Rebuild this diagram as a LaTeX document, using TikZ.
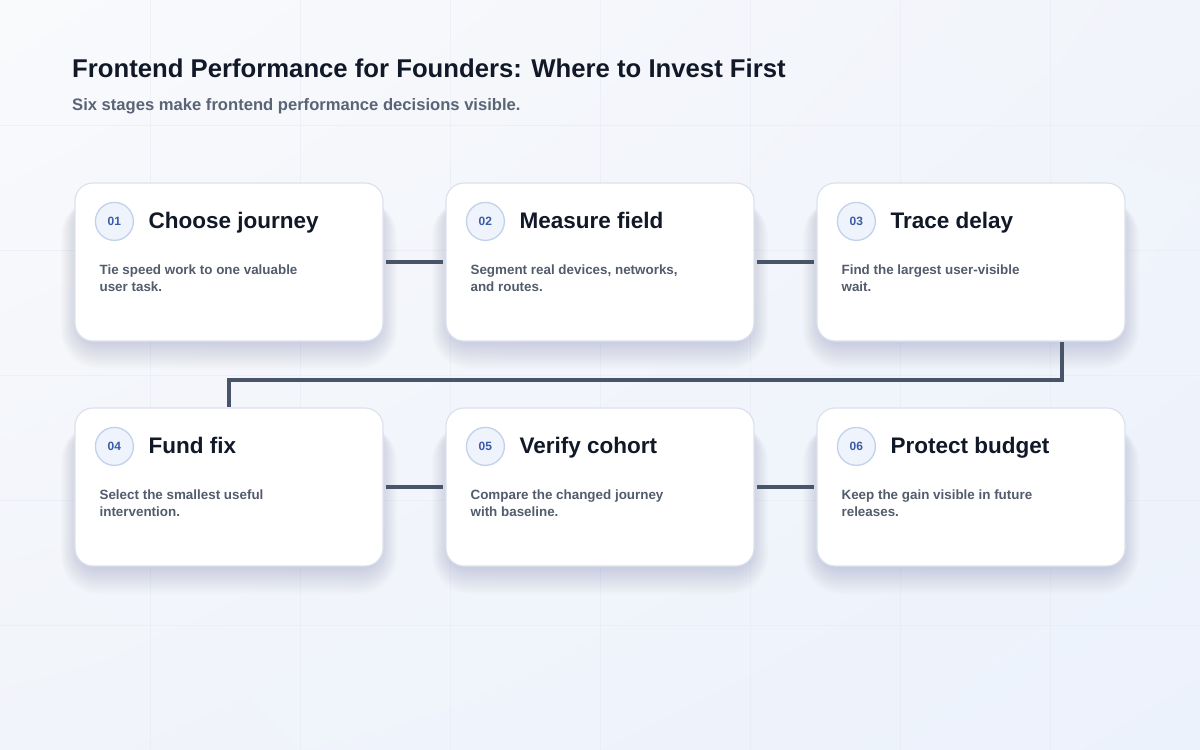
\documentclass[tikz,border=0pt]{standalone}
\usepackage{fontspec}
\setmainfont{Liberation Sans}
\usetikzlibrary{shadings}
\definecolor{bgA}{HTML}{F9FAFC}
\definecolor{bgB}{HTML}{F1F4FA}
\definecolor{bgC}{HTML}{ECF2FC}
\definecolor{gridcol}{HTML}{E6EAF2}
\definecolor{cardborder}{HTML}{DCE2EC}
\definecolor{circborder}{HTML}{C3D1EC}
\definecolor{circfill}{HTML}{EEF3FC}
\definecolor{numblue}{HTML}{3A5CA8}
\definecolor{titlecol}{HTML}{111827}
\definecolor{subcol}{HTML}{5A6477}
\definecolor{desccol}{HTML}{535C6C}
\definecolor{linkcol}{HTML}{485468}
\definecolor{shadowcol}{HTML}{7C8CB0}
\begin{document}
\begin{tikzpicture}[x=1pt,y=-1pt,
  card/.style={draw=cardborder, line width=1.2pt, fill=white, rounded corners=18pt,
    minimum width=308pt, minimum height=158pt, inner sep=0pt},
  numcircle/.style={circle, draw=circborder, line width=1.3pt, fill=circfill,
    minimum size=38pt, inner sep=0pt, font=\fontsize{12}{14}\selectfont\bfseries, text=numblue},
  ctitle/.style={anchor=base west, inner sep=0pt, font=\fontsize{22.5}{26}\selectfont\bfseries, text=titlecol},
  cdesc/.style={anchor=north west, inner sep=0pt, align=left,
    font=\fontsize{13.4}{17}\selectfont\bfseries, text=desccol},
  link/.style={draw=linkcol, line width=4pt}
]
\useasboundingbox (0,0) rectangle (1200,750);
% background
\shade[upper left=bgA, upper right=bgB, lower left=bgB, lower right=bgC] (0,0) rectangle (1200,750);
\foreach \gx in {150,300,...,1050} \draw[gridcol, line width=0.8pt, opacity=0.5] (\gx,0) -- (\gx,750);
\foreach \gy in {125,250,...,625} \draw[gridcol, line width=0.8pt, opacity=0.5] (0,\gy) -- (1200,\gy);
% shadows
\foreach \cx/\cy in {229/262,600/262,971/262,229/487,600/487,971/487}{
  \foreach \i in {1,...,20}{
    \fill[shadowcol, opacity=0.014, rounded corners={18pt+\i pt}]
      ({\cx-150-0.9*\i},{\cy-79+16}) rectangle ({\cx+150+0.9*\i},{\cy+79+1.4*\i});
  }
}
% title
\node[anchor=base west, inner sep=0pt, font=\fontsize{25.7}{30}\selectfont\bfseries, text=titlecol] (title) at (72,77)
  {Frontend Performance for Founders: Where to Invest First};
\node[anchor=base west, inner sep=0pt, font=\fontsize{16.6}{20}\selectfont\bfseries, text=subcol] (subtitle) at (72,110)
  {Six stages make frontend performance decisions visible.};
% cards
\node[card] (c1) at (229,262) {};
\node[card] (c2) at (600,262) {};
\node[card] (c3) at (971,262) {};
\node[card] (c4) at (229,487) {};
\node[card] (c5) at (600,487) {};
\node[card] (c6) at (971,487) {};
% connectors
\draw[link, shorten <=2pt, shorten >=2pt] (c1.east) -- (c2.west);
\draw[link, shorten <=2pt, shorten >=2pt] (c2.east) -- (c3.west);
\draw[link, shorten <=2pt, shorten >=2pt] (c4.east) -- (c5.west);
\draw[link, shorten <=2pt, shorten >=2pt] (c5.east) -- (c6.west);
\draw[link, line join=miter] ([xshift=91pt,yshift=-0.5pt]c3.south) -- ++(0,38) -| ([yshift=0.5pt]c4.north);
% card contents
\foreach \c/\n/\t/\da/\db in {
  c1/01/Choose journey/Tie speed work to one valuable/user task.,
  c2/02/Measure field/{Segment real devices, networks,}/and routes.,
  c3/03/Trace delay/Find the largest user-visible/wait.,
  c4/04/Fund fix/Select the smallest useful/intervention.,
  c5/05/Verify cohort/Compare the changed journey/with baseline.,
  c6/06/Protect budget/Keep the gain visible in future/releases.}{
  \node[numcircle] (\c n) at ([xshift=40pt,yshift=-39pt]\c.north west) {\n};
  \node[ctitle] (\c t) at ([xshift=74pt,yshift=-46.5pt]\c.north west) {\t};
  \node[cdesc] (\c d) at ([xshift=25pt,yshift=-82pt]\c.north west) {\da\\\db};
}
\end{tikzpicture}
\end{document}
